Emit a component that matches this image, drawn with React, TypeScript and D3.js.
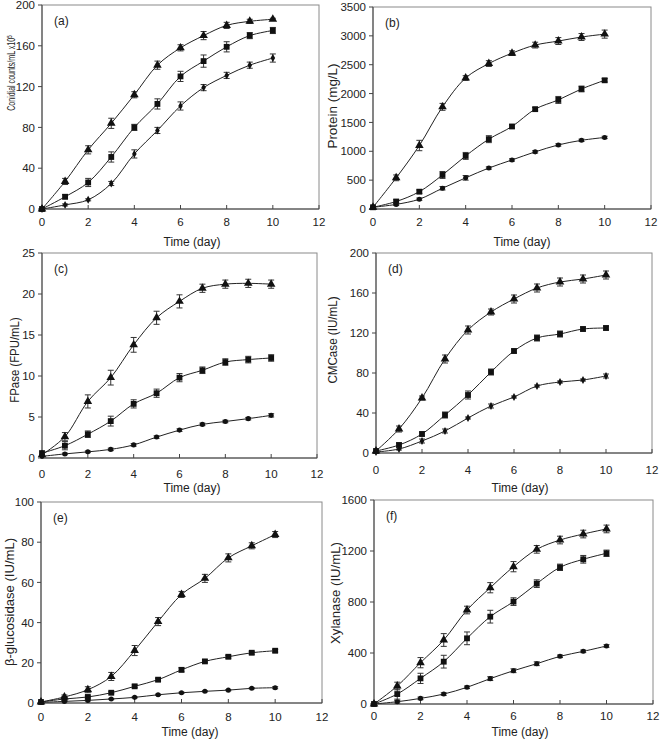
import React, { useEffect, useRef } from 'react';
import * as d3 from 'd3';

const WIDTH = 661;
const HEIGHT = 745;

// --- Data ---
const days = [0, 1, 2, 3, 4, 5, 6, 7, 8, 9, 10];
const xTicks = [0, 2, 4, 6, 8, 10, 12];

// (a) conidial counts
const conidiaTri = [0, 27, 58, 84, 112, 141, 158, 170, 180, 184, 186];
const conidiaTriErr = [0, 3, 4, 5, 3, 4, 3, 4, 3, 2, 1];
const conidiaSq = [0, 12, 26, 51, 80, 103, 130, 145, 159, 170, 175];
const conidiaSqErr = [0, 2, 4, 5, 3, 5, 5, 6, 5, 3, 3];
const conidiaDia = [0, 4, 9, 25, 54, 77, 101, 119, 131, 141, 148];
const conidiaDiaErr = [0, 1, 1, 2, 4, 3, 4, 3, 3, 3, 4];

// (b) protein
const proteinTri = [30, 540, 1100, 1770, 2270, 2520, 2700, 2840, 2910, 2980, 3030];
const proteinTriErr = [0, 50, 90, 60, 40, 50, 40, 50, 60, 60, 70];
const proteinSq = [30, 130, 300, 590, 920, 1210, 1430, 1730, 1890, 2080, 2230];
const proteinSqErr = [0, 30, 30, 60, 60, 60, 30, 30, 60, 50, 30];
const proteinDia = [30, 80, 170, 360, 540, 710, 850, 990, 1110, 1190, 1240];
const proteinDiaErr = [0, 20, 20, 30, 40, 20, 20, 20, 20, 20, 20];

// (c) FPase
const fpaseTri = [0.4, 2.6, 6.9, 9.8, 13.8, 17.1, 19.1, 20.7, 21.2, 21.3, 21.2];
const fpaseTriErr = [0, 0.5, 0.8, 0.9, 0.9, 0.8, 0.8, 0.5, 0.5, 0.5, 0.5];
const fpaseSq = [0.6, 1.5, 2.9, 4.5, 6.6, 7.9, 9.8, 10.7, 11.7, 12.0, 12.2];
const fpaseSqErr = [0, 0.5, 0.4, 0.6, 0.5, 0.5, 0.5, 0.4, 0.4, 0.4, 0.4];
const fpaseDia = [0.2, 0.5, 0.75, 1.05, 1.6, 2.55, 3.4, 4.1, 4.45, 4.8, 5.2];
const fpaseDiaErr = [0, 0.1, 0.1, 0.15, 0.15, 0.15, 0.15, 0.15, 0.15, 0.15, 0.2];

// (d) CMCase
const cmcaseTri = [2, 24, 55, 94, 123, 141, 154, 165, 171, 174, 178];
const cmcaseTriErr = [0, 3, 2, 4, 4, 3, 4, 4, 4, 4, 4];
const cmcaseSq = [2, 8, 19, 38, 58, 81, 102, 115, 119, 124, 125];
const cmcaseSqErr = [0, 2, 2, 3, 4, 3, 2, 3, 3, 2, 2];
const cmcaseDia = [1, 4, 12, 22, 35, 47, 56, 67, 71, 73, 77];
const cmcaseDiaErr = [0, 1, 2, 2, 1, 2, 1, 1, 1, 1, 2];

// (e) beta-glucosidase
const bglucTri = [0.5, 3.0, 6.6, 13.2, 26.1, 40.5, 54, 62, 72.2, 78.2, 83.8];
const bglucTriErr = [0, 1, 1.5, 2, 2.5, 2, 1.5, 2, 2, 1.5, 1.5];
const bglucSq = [0.5, 2, 3, 5.1, 8.3, 11.6, 16.5, 20.7, 23, 25, 26];
const bglucSqErr = [0, 0.5, 0.5, 0.5, 0.7, 0.7, 1, 0.7, 0.7, 0.7, 0.7];
const bglucDia = [0.3, 0.8, 1.3, 2, 2.8, 4.1, 5.1, 5.8, 6.4, 7.3, 7.6];
const bglucDiaErr = [0, 0.3, 0.3, 0.3, 0.3, 0.3, 0.3, 0.3, 0.3, 0.3, 0.5];

// (f) xylanase
const xylTri = [0, 141, 324, 502, 737, 912, 1077, 1213, 1286, 1333, 1373];
const xylTriErr = [0, 30, 40, 50, 30, 40, 40, 30, 30, 30, 30];
const xylSq = [0, 78, 201, 332, 515, 685, 803, 944, 1072, 1135, 1182];
const xylSqErr = [0, 40, 40, 50, 50, 50, 30, 30, 25, 30, 25];
const xylDia = [0, 18, 44, 78, 131, 199, 261, 316, 374, 413, 455];
const xylDiaErr = [0, 10, 10, 10, 10, 15, 15, 15, 10, 10, 10];

type Marker = 'tri' | 'sq' | 'dia' | 'dot';

interface Panel {
  tag: string;
  yLabel: string;
  sup?: string;
  yMax: number;
  yStep: number;
  series: { v: number[]; e: number[]; m: Marker }[];
  // layout
  box: [number, number, number, number]; // left, right, top, bottom
  tickY: number;
  xTitle: [number, number];
  yTitle: [number, number, number]; // x, y-centre, horizontal squeeze
}

const panels: Panel[] = [
  {
    tag: '(a)', yLabel: 'Conidial counts/mL x10', sup: '5', yMax: 200, yStep: 40,
    series: [
      { v: conidiaTri, e: conidiaTriErr, m: 'tri' },
      { v: conidiaSq, e: conidiaSqErr, m: 'sq' },
      { v: conidiaDia, e: conidiaDiaErr, m: 'dia' },
    ],
    box: [42, 319, 5, 209], tickY: 222, xTitle: [192, 242], yTitle: [11, 73, 0.64],
  },
  {
    tag: '(b)', yLabel: 'Protein (mg/L)', yMax: 3500, yStep: 500,
    series: [
      { v: proteinTri, e: proteinTriErr, m: 'tri' },
      { v: proteinSq, e: proteinSqErr, m: 'sq' },
      { v: proteinDia, e: proteinDiaErr, m: 'dot' },
    ],
    box: [373, 651, 7, 209], tickY: 222, xTitle: [522, 242], yTitle: [333, 106, 1.12],
  },
  {
    tag: '(c)', yLabel: 'FPase (FPU/mL)', yMax: 25, yStep: 5,
    series: [
      { v: fpaseTri, e: fpaseTriErr, m: 'tri' },
      { v: fpaseSq, e: fpaseSqErr, m: 'sq' },
      { v: fpaseDia, e: fpaseDiaErr, m: 'dot' },
    ],
    box: [42, 317, 253, 458], tickY: 474, xTitle: [192, 488], yTitle: [15, 360, 0.95],
  },
  {
    tag: '(d)', yLabel: 'CMCase (IU/mL)', yMax: 200, yStep: 40,
    series: [
      { v: cmcaseTri, e: cmcaseTriErr, m: 'tri' },
      { v: cmcaseSq, e: cmcaseSqErr, m: 'sq' },
      { v: cmcaseDia, e: cmcaseDiaErr, m: 'dia' },
    ],
    box: [376, 652, 253, 453], tickY: 470, xTitle: [520, 488], yTitle: [333, 340, 0.97],
  },
  {
    tag: '(e)', yLabel: 'β-glucosidase (IU/mL)', yMax: 100, yStep: 20,
    series: [
      { v: bglucTri, e: bglucTriErr, m: 'tri' },
      { v: bglucSq, e: bglucSqErr, m: 'sq' },
      { v: bglucDia, e: bglucDiaErr, m: 'dot' },
    ],
    box: [41, 322, 502, 703], tickY: 717, xTitle: [190, 732], yTitle: [10, 602, 1.09],
  },
  {
    tag: '(f)', yLabel: 'Xylanase (IU/mL)', yMax: 1600, yStep: 400,
    series: [
      { v: xylTri, e: xylTriErr, m: 'tri' },
      { v: xylSq, e: xylSqErr, m: 'sq' },
      { v: xylDia, e: xylDiaErr, m: 'dot' },
    ],
    box: [374, 653, 500, 704], tickY: 716, xTitle: [520, 732], yTitle: [336, 593, 1.1],
  },
];

const FONT = '"Liberation Sans", Arial, sans-serif';

const App: React.FC = () => {
  const svgRef = useRef<SVGSVGElement>(null);

  useEffect(() => {
    if (!svgRef.current) return;
    const svg = d3.select(svgRef.current);
    svg.selectAll('*').remove();

    svg.append('rect').attr('width', WIDTH).attr('height', HEIGHT).attr('fill', '#fff');

    const symbolFor = (m: Marker) => {
      if (m === 'tri') return d3.symbol(d3.symbolTriangle, 32)();
      if (m === 'sq') return d3.symbol(d3.symbolSquare, 34)();
      if (m === 'dia') return d3.symbol(d3.symbolDiamond, 18)();
      return d3.symbol(d3.symbolCircle, 20)();
    };

    panels.forEach(p => {
      const [left, right, top, bottom] = p.box;
      const x = d3.scaleLinear().domain([0, 12]).range([left, right]);
      const y = d3.scaleLinear().domain([0, p.yMax]).range([bottom, top]);
      const g = svg.append('g').attr('font-family', FONT);

      // frame (top/right) in grey
      g.append('rect')
        .attr('x', left).attr('y', top)
        .attr('width', right - left).attr('height', bottom - top)
        .attr('fill', 'none').attr('stroke', '#8a8a8a').attr('stroke-width', 1);

      // y axis
      const yTicks = d3.range(0, p.yMax + p.yStep / 2, p.yStep);
      g.append('line')
        .attr('x1', left).attr('x2', left).attr('y1', top).attr('y2', bottom)
        .attr('stroke', '#444');
      yTicks.forEach(t => {
        g.append('line')
          .attr('x1', left - 4).attr('x2', left)
          .attr('y1', y(t)).attr('y2', y(t))
          .attr('stroke', '#444');
        g.append('text')
          .attr('x', left - 7).attr('y', y(t))
          .attr('dy', '0.36em')
          .attr('text-anchor', 'end')
          .attr('font-size', 11.5)
          .attr('fill', '#222')
          .text(t);
      });

      // x axis
      g.append('line')
        .attr('x1', left).attr('x2', right).attr('y1', bottom).attr('y2', bottom)
        .attr('stroke', '#444');
      xTicks.forEach(t => {
        g.append('line')
          .attr('x1', x(t)).attr('x2', x(t))
          .attr('y1', bottom - 4).attr('y2', bottom)
          .attr('stroke', '#444');
        g.append('text')
          .attr('x', x(t)).attr('y', p.tickY)
          .attr('dy', '0.36em')
          .attr('text-anchor', 'middle')
          .attr('font-size', 11.5)
          .attr('fill', '#222')
          .text(t);
      });

      g.append('text')
        .attr('x', p.xTitle[0]).attr('y', p.xTitle[1])
        .attr('dy', '0.36em')
        .attr('text-anchor', 'middle')
        .attr('font-size', 12)
        .attr('fill', '#222')
        .text('Time (day)');

      const yt = g.append('text')
        .attr('transform', `translate(${p.yTitle[0]},${p.yTitle[1]}) rotate(-90) scale(${p.yTitle[2]},1)`)
        .attr('dy', '0.36em')
        .attr('text-anchor', 'middle')
        .attr('font-size', p.sup ? 11 : 12)
        .attr('fill', '#222');
      yt.append('tspan').text(p.yLabel);
      if (p.sup) {
        yt.append('tspan').attr('font-size', 7.5).attr('dy', '-0.4em').text(p.sup);
      }

      g.append('text')
        .attr('x', left + 12).attr('y', top + 20)
        .attr('font-size', 12)
        .attr('fill', '#222')
        .text(p.tag);

      // series
      const line = d3.line<number>()
        .x((_, i) => x(days[i]))
        .y(d => y(d))
        .curve(d3.curveCatmullRom.alpha(0.5));

      p.series.forEach(s => {
        g.append('path')
          .datum(s.v)
          .attr('d', line)
          .attr('fill', 'none')
          .attr('stroke', '#222')
          .attr('stroke-width', 1);

        s.v.forEach((v, i) => {
          const err = s.e[i];
          if (err > 0) {
            const cx = x(days[i]);
            g.append('line')
              .attr('x1', cx).attr('x2', cx)
              .attr('y1', y(v - err)).attr('y2', y(v + err))
              .attr('stroke', '#333').attr('stroke-width', 1);
            [v - err, v + err].forEach(ev => {
              g.append('line')
                .attr('x1', cx - 3).attr('x2', cx + 3)
                .attr('y1', y(ev)).attr('y2', y(ev))
                .attr('stroke', '#333').attr('stroke-width', 1);
            });
          }
        });

        g.selectAll(null)
          .data(s.v)
          .enter()
          .append('path')
          .attr('d', symbolFor(s.m))
          .attr('transform', (d, i) => `translate(${x(days[i])},${y(d)})`)
          .attr('fill', '#111');
      });
    });
  }, []);

  return (
    <svg
      ref={svgRef}
      width={WIDTH}
      height={HEIGHT}
      viewBox={`0 0 ${WIDTH} ${HEIGHT}`}
      style={{ position: 'absolute', left: 0, top: 0, display: 'block' }}
    />
  );
};

export default App;
